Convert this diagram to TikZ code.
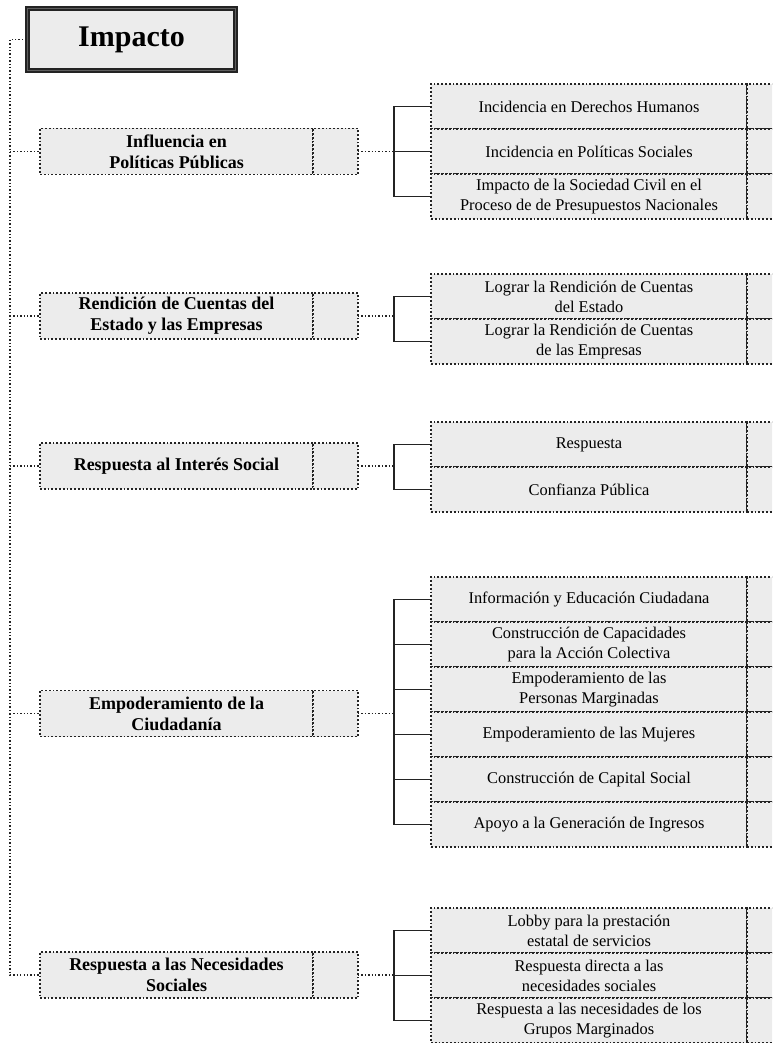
\documentclass[tikz,border=0pt]{standalone}
\usepackage{fontspec}
\setmainfont{Liberation Serif}
\usetikzlibrary{positioning}
\definecolor{imgrey}{RGB}{236,236,236}
\definecolor{imline}{RGB}{35,35,35}
\tikzset{
  titlebox/.style={draw=imline, line width=0.9pt, double=imgrey!40!black, double distance=0.7pt, fill=imgrey, minimum width=104pt, minimum height=31pt, font=\fontsize{15}{17}\selectfont\bfseries},
  groupbox/.style={draw=imline, densely dotted, line width=0.9pt, fill=imgrey, minimum width=136.5pt, minimum height=23pt, inner sep=1pt, outer sep=0pt, align=center, font=\fontsize{9}{10.5}\selectfont\bfseries},
  groupcell/.style={groupbox, minimum width=22.5pt},
  itembox/.style={draw=imline, densely dotted, line width=0.9pt, fill=imgrey, minimum width=158pt, minimum height=22.5pt, inner sep=1pt, outer sep=0pt, align=center, font=\fontsize{8.2}{10}\selectfont},
  itemcell/.style={itembox, minimum width=40pt},
  linkline/.style={draw=imline, densely dotted, line width=0.7pt},
  bracket/.style={draw=imline, line width=0.8pt}
}

\begin{document}
\begin{tikzpicture}[x=0.5pt, y=-0.5pt]
    \useasboundingbox (0,0) rectangle (772,1043);
    \clip (0,0) rectangle (772,1043);
    \coordinate (trunk) at (10,0);
    \coordinate (brk) at (394,0);
    % root
    \node[titlebox] (title) at (131.5,39.5) {Impacto};
    % groups
    \node[groupbox, anchor=west] (g1) at (40,151.5) {Influencia en\\Políticas Públicas};
    \node[groupcell, right=0pt of g1] (g1c) {};
    \node[groupbox, anchor=west] (g2) at (40,316) {Rendición de Cuentas del\\Estado y las Empresas};
    \node[groupcell, right=0pt of g2] (g2c) {};
    \node[groupbox, anchor=west] (g3) at (40,466) {Respuesta al Interés Social};
    \node[groupcell, right=0pt of g3] (g3c) {};
    \node[groupbox, anchor=west] (g4) at (40,713.5) {Empoderamiento de la\\Ciudadanía};
    \node[groupcell, right=0pt of g4] (g4c) {};
    \node[groupbox, anchor=west] (g5) at (40,975) {Respuesta a las Necesidades\\Sociales};
    \node[groupcell, right=0pt of g5] (g5c) {};
    % items
    \node[itembox, anchor=north west] (i11) at (431,84) {Incidencia en Derechos Humanos};
    \node[itembox, below=0pt of i11] (i12) {Incidencia en Políticas Sociales};
    \node[itembox, below=0pt of i12] (i13) {Impacto de la Sociedad Civil en el\\Proceso de de Presupuestos Nacionales};
    \node[itembox, anchor=north west] (i21) at (431,274) {Lograr la Rendición de Cuentas\\del Estado};
    \node[itembox, below=0pt of i21] (i22) {Lograr la Rendición de Cuentas\\de las Empresas};
    \begin{scope}[every node/.append style={minimum height=22pt}]
      \node[itembox, anchor=north west] (i31) at (431,422) {Respuesta};
      \node[itembox, below=0pt of i31] (i32) {Confianza Pública};
      \foreach \n in {i31,i32}
        \node[itemcell, right=0pt of \n] (\n-c) {};
    \end{scope}
    \begin{scope}[every node/.append style={minimum height=22.75pt}]
      \node[itembox, anchor=north west] (i41) at (431,577) {Información y Educación Ciudadana};
      \node[itembox, below=0pt of i41] (i42) {Construcción de Capacidades\\para la Acción Colectiva};
      \node[itembox, below=0pt of i42] (i43) {Empoderamiento de las\\Personas Marginadas};
      \node[itembox, below=0pt of i43] (i44) {Empoderamiento de las Mujeres};
      \node[itembox, below=0pt of i44] (i45) {Construcción de Capital Social};
      \node[itembox, below=0pt of i45] (i46) {Apoyo a la Generación de Ingresos};
      \foreach \n in {i41,i42,i43,i44,i45,i46}
        \node[itemcell, right=0pt of \n] (\n-c) {};
    \end{scope}
    \node[itembox, anchor=north west] (i51) at (431,908) {Lobby para la prestación\\estatal de servicios};
    \node[itembox, below=0pt of i51] (i52) {Respuesta directa a las\\necesidades sociales};
    \node[itembox, below=0pt of i52] (i53) {Respuesta a las necesidades de los\\Grupos Marginados};
    % right cells, cut by the page edge
    \foreach \n in {i11,i12,i13,i21,i22,i51,i52,i53}
      \node[itemcell, right=0pt of \n] (\n-c) {};
    % trunk
    \draw[linkline] (title.west) -- (title.west -| trunk) |- (g5.west);
    \draw[linkline] (g1.west -| trunk) -- (g1.west);
    \draw[linkline] (g2.west -| trunk) -- (g2.west);
    \draw[linkline] (g3.west -| trunk) -- (g3.west);
    \draw[linkline] (g4.west -| trunk) -- (g4.west);
    % group to bracket
    \draw[linkline] (g1c.east) -- (g1c.east -| brk);
    \draw[linkline] (g2c.east) -- (g2c.east -| brk);
    \draw[linkline] (g3c.east) -- (g3c.east -| brk);
    \draw[linkline] (g4c.east) -- (g4c.east -| brk);
    \draw[linkline] (g5c.east) -- (g5c.east -| brk);
    % brackets
    \draw[bracket] (i11.west) -- (i11.west -| brk) -- (i13.west -| brk) -- (i13.west);
    \draw[bracket] (i12.west) -- (i12.west -| brk);
    \draw[bracket] (i21.west) -- (i21.west -| brk) -- (i22.west -| brk) -- (i22.west);
    \draw[bracket] (i31.west) -- (i31.west -| brk) -- (i32.west -| brk) -- (i32.west);
    \draw[bracket] (i41.west) -- (i41.west -| brk) -- (i46.west -| brk) -- (i46.west);
    \foreach \n in {2,...,5}
      \draw[bracket] (i4\n.west) -- (i4\n.west -| brk);
    \draw[bracket] (i51.west) -- (i51.west -| brk) -- (i53.west -| brk) -- (i53.west);
    \draw[bracket] (i52.west) -- (i52.west -| brk);
\end{tikzpicture}
\end{document}
